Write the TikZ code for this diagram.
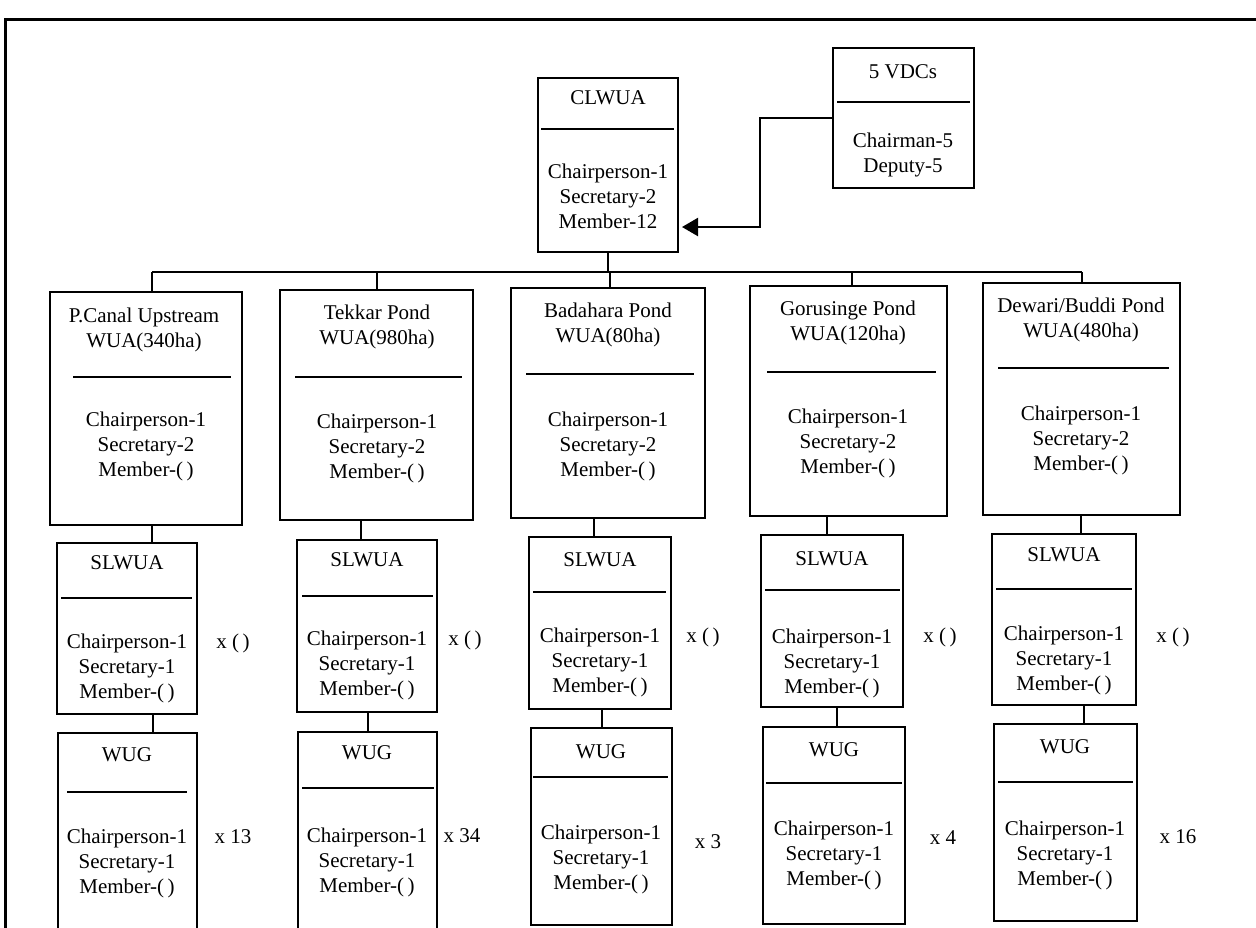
\documentclass[tikz,border=0pt]{standalone}
\usepackage{fontspec}
\setmainfont{Liberation Serif}
\usetikzlibrary{arrows.meta}
\newcommand\orgbx[5]{\node[box, minimum width={(#4-#2)*0.5pt}, minimum height={(#5-#3)*0.5pt}] (#1) at ({(#2+#4)/2},{(#3+#5)/2}) {};}
\newcommand\orgdiv[3]{\draw[div] (#1,#3) -- (#2,#3);}
\begin{document}
\begin{tikzpicture}[x=0.5pt,y=-0.5pt,
  box/.style={draw, line width=1.2pt, inner sep=0pt, outer sep=0pt},
  div/.style={line width=0.8pt},
  conn/.style={line width=1.1pt},
  frame/.style={line width=1.5pt},
  txt/.style={font=\fontsize{10.5}{12.5}\selectfont, align=center, inner sep=0pt},
  mult/.style={font=\fontsize{10.5}{12.5}\selectfont, inner sep=0pt}]
\path[use as bounding box] (0,0) rectangle (1256,927);
\clip (0,0) rectangle (1256,927);
\fill[white] (0,0) rectangle (1256,927);
% frame
\draw[frame] (5,940) -- (5,19) -- (1260,19);

% top boxes
\orgbx{clwua}{538}{78}{678}{252}
\orgdiv{541}{674}{129}
\node[txt] (clwua-t) at (608,98) {CLWUA};
\node[txt] (clwua-b) at (608,196) {Chairperson-1\\Secretary-2\\Member-12};

\orgbx{vdc}{833}{48}{974}{188}
\orgdiv{837}{970}{102}
\node[txt] (vdc-t) at (903,72) {5 VDCs};
\node[txt] (vdc-b) at (903,155) {Chairman-5\\Deputy-5};

\draw[conn, -{Triangle[length=8pt,width=9pt]}, shorten >=2pt] (vdc.west) -| (760,227) -- (clwua.east |- 760,227);

% main WUA boxes
\orgbx{pc}{50}{292}{242}{525}
\orgdiv{73}{231}{377}
\node[txt] (pc-t) at (144,330) {P.Canal Upstream\\WUA(340ha)};
\node[txt] (pc-b) at (146,446) {Chairperson-1\\Secretary-2\\Member-(\,)};

\orgbx{tk}{280}{290}{473}{520}
\orgdiv{295}{462}{377}
\node[txt] (tk-t) at (377,327) {Tekkar Pond\\WUA(980ha)};
\node[txt] (tk-b) at (377,448) {Chairperson-1\\Secretary-2\\Member-(\,)};

\orgbx{bd}{511}{288}{705}{518}
\orgdiv{526}{694}{374}
\node[txt] (bd-t) at (608,325) {Badahara Pond\\WUA(80ha)};
\node[txt] (bd-b) at (608,446) {Chairperson-1\\Secretary-2\\Member-(\,)};

\orgbx{gs}{750}{286}{947}{516}
\orgdiv{767}{936}{372}
\node[txt] (gs-t) at (848,323) {Gorusinge Pond\\WUA(120ha)};
\node[txt] (gs-b) at (848,443) {Chairperson-1\\Secretary-2\\Member-(\,)};

\orgbx{dw}{983}{283}{1180}{515}
\orgdiv{998}{1169}{368}
\node[txt] (dw-t) at (1081,320) {Dewari/Buddi Pond\\WUA(480ha)};
\node[txt] (dw-b) at (1081,440) {Chairperson-1\\Secretary-2\\Member-(\,)};

% SLWUA boxes
\orgbx{pcs}{57}{543}{197}{714}
\orgdiv{61}{192}{598}
\node[txt] (pcs-t) at (127,563) {SLWUA};
\node[txt] (pcs-b) at (127,668) {Chairperson-1\\Secretary-1\\Member-(\,)};
\node[mult] (pcs-m) at (233,643) {x (\,)};

\orgbx{tks}{297}{540}{437}{712}
\orgdiv{302}{433}{596}
\node[txt] (tks-t) at (367,560) {SLWUA};
\node[txt] (tks-b) at (367,665) {Chairperson-1\\Secretary-1\\Member-(\,)};
\node[mult] (tks-m) at (465,640) {x (\,)};

\orgbx{bds}{529}{537}{671}{709}
\orgdiv{533}{666}{592}
\node[txt] (bds-t) at (600,560) {SLWUA};
\node[txt] (bds-b) at (600,662) {Chairperson-1\\Secretary-1\\Member-(\,)};
\node[mult] (bds-m) at (703,637) {x (\,)};

\orgbx{gss}{761}{535}{903}{707}
\orgdiv{765}{900}{590}
\node[txt] (gss-t) at (832,559) {SLWUA};
\node[txt] (gss-b) at (832,663) {Chairperson-1\\Secretary-1\\Member-(\,)};
\node[mult] (gss-m) at (940,637) {x (\,)};

\orgbx{dws}{992}{534}{1136}{705}
\orgdiv{996}{1132}{589}
\node[txt] (dws-t) at (1064,555) {SLWUA};
\node[txt] (dws-b) at (1064,660) {Chairperson-1\\Secretary-1\\Member-(\,)};
\node[mult] (dws-m) at (1173,637) {x (\,)};

% WUG boxes
\orgbx{pcw}{58}{733}{197}{940}
\orgdiv{67}{187}{792}
\node[txt] (pcw-t) at (127,755) {WUG};
\node[txt] (pcw-b) at (127,863) {Chairperson-1\\Secretary-1\\Member-(\,)};
\node[mult] (pcw-m) at (233,837) {x 13};

\orgbx{tkw}{298}{732}{437}{940}
\orgdiv{302}{434}{788}
\node[txt] (tkw-t) at (367,753) {WUG};
\node[txt] (tkw-b) at (367,862) {Chairperson-1\\Secretary-1\\Member-(\,)};
\node[mult] (tkw-m) at (462,836) {x 34};

\orgbx{bdw}{531}{728}{672}{925}
\orgdiv{533}{668}{777}
\node[txt] (bdw-t) at (601,752) {WUG};
\node[txt] (bdw-b) at (601,859) {Chairperson-1\\Secretary-1\\Member-(\,)};
\node[mult] (bdw-m) at (708,842) {x 3};

\orgbx{gsw}{763}{727}{905}{924}
\orgdiv{766}{902}{783}
\node[txt] (gsw-t) at (834,750) {WUG};
\node[txt] (gsw-b) at (834,855) {Chairperson-1\\Secretary-1\\Member-(\,)};
\node[mult] (gsw-m) at (943,838) {x 4};

\orgbx{dww}{994}{724}{1137}{921}
\orgdiv{998}{1133}{782}
\node[txt] (dww-t) at (1065,747) {WUG};
\node[txt] (dww-b) at (1065,855) {Chairperson-1\\Secretary-1\\Member-(\,)};
\node[mult] (dww-m) at (1178,837) {x 16};

% bus and connectors
\coordinate (busL) at (152,272);
\coordinate (busR) at (1082,272);
\coordinate (b2) at (377,272);
\coordinate (b3) at (610,272);
\coordinate (b4) at (852,272);
\draw[conn] (busL) -- (busR);
\draw[conn] (clwua.south) -- (clwua.south |- busL);
\draw[conn] (busL) -- (pc.north -| busL);
\draw[conn] (b2) -- (tk.north -| b2);
\draw[conn] (b3) -- (bd.north -| b3);
\draw[conn] (b4) -- (gs.north -| b4);
\draw[conn] (busR) -- (dw.north -| busR);

\draw[conn] (pc.south -| 152,0) -- (pcs.north -| 152,0);
\draw[conn] (tk.south -| 361,0) -- (tks.north -| 361,0);
\draw[conn] (bd.south -| 594,0) -- (bds.north -| 594,0);
\draw[conn] (gs.south -| 827,0) -- (gss.north -| 827,0);
\draw[conn] (dw.south -| 1081,0) -- (dws.north -| 1081,0);

\draw[conn] (pcs.south -| 153,0) -- (pcw.north -| 153,0);
\draw[conn] (tks.south -| 368,0) -- (tkw.north -| 368,0);
\draw[conn] (bds.south -| 602,0) -- (bdw.north -| 602,0);
\draw[conn] (gss.south -| 837,0) -- (gsw.north -| 837,0);
\draw[conn] (dws.south -| 1084,0) -- (dww.north -| 1084,0);
\end{tikzpicture}
\end{document}
